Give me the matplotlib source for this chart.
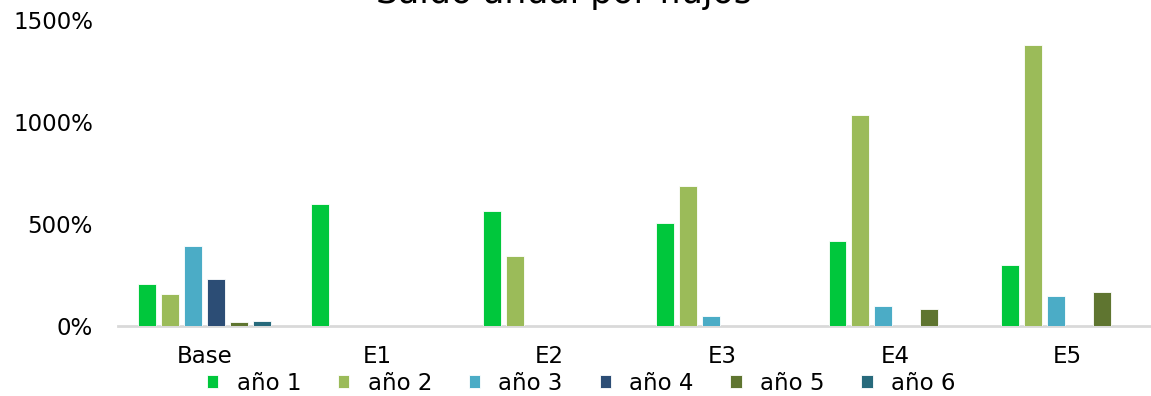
import numpy as np
import matplotlib.pyplot as plt
from matplotlib.ticker import FuncFormatter

# saldo anual (%) por escenario y año
escenarios = ['Base', 'E1', 'E2', 'E3', 'E4', 'E5']
series = ['año 1', 'año 2', 'año 3', 'año 4', 'año 5', 'año 6']
anio1 = [205, 595, 565, 505, 417, 298]
anio2 = [157, 0, 343, 687, 1032, 1375]
anio3 = [390, 0, 0, 48, 97, 146]
anio4 = [230, 0, 0, 0, 0, 0]
anio5 = [18, 0, 0, 0, 81, 163]
anio6 = [25, 0, 0, 0, 0, 0]
valores = [anio1, anio2, anio3, anio4, anio5, anio6]

colores = ['#00c73c', '#9bbb59', '#4bacc6', '#2c4d75', '#5f7530', '#276a7c']

plt.rcParams['font.family'] = ['DejaVu Sans']

fig = plt.figure(figsize=(11.51, 3.96), dpi=100)
ax = fig.add_axes([0.1025, 0.1775, 0.9, 0.772])

x = np.arange(len(escenarios))
paso = 0.133
ancho = 0.104
for i, (serie, vals) in enumerate(zip(series, valores)):
    ax.bar(x + (i - 2.5) * paso, vals, width=ancho, color=colores[i],
           edgecolor='white', linewidth=0.6, label=serie, zorder=3)

ax.set_xlim(-0.5, len(escenarios) - 0.5)
ax.set_ylim(0, 1500)
ax.set_yticks([0, 500, 1000, 1500])
ax.yaxis.set_major_formatter(FuncFormatter(lambda v, p: f'{v:.0f}%'))
ax.set_xticks(x)
ax.set_xticklabels(escenarios)

for s in ['top', 'right', 'left']:
    ax.spines[s].set_visible(False)
ax.spines['bottom'].set_color('#d9d9d9')
ax.spines['bottom'].set_linewidth(2)
ax.spines['bottom'].set_zorder(2)
ax.tick_params(axis='both', length=0, labelsize=16.5, colors='black')
ax.tick_params(axis='x', pad=14)
ax.tick_params(axis='y', pad=18)

fig.text(0.49, 1 - 3 / 396, 'Saldo anual por flujos', ha='center', va='baseline',
         fontsize=25)

fig.legend(loc='center', bbox_to_anchor=(0.505, 0.032), ncol=6, frameon=False,
           fontsize=16.5, handlelength=0.5, handleheight=0.5, handletextpad=0.8,
           columnspacing=1.6, borderaxespad=0)

fig.savefig('out.png', dpi=100)
